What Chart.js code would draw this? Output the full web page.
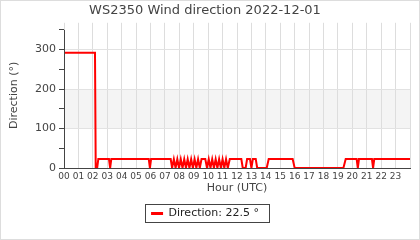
<!DOCTYPE html>
<html>
<head>
    <title>WS2350 Wind direction</title>
    <script src="https://cdn.jsdelivr.net/npm/chart.js"></script>
    <style>
        body { margin: 0; background: #fff; }
    </style>
</head>
<body>
    <canvas id="windChart" width="420" height="240"></canvas>
    <script>
        // sample time (hour of day, UTC) and wind direction (degrees)
        var hours = [
            0, 2.15,
            2.2, 2.3, 2.38,
            3.12, 3.2, 3.28,
            5.88, 5.96, 6.04,
            7.4, 7.5, 7.62, 7.74, 7.86, 7.98, 8.1, 8.22, 8.34, 8.46, 8.58, 8.7, 8.82, 8.94, 9.06, 9.18, 9.3, 9.42, 9.54,
            9.8, 9.92, 10.04, 10.16, 10.28, 10.4, 10.52, 10.64, 10.76, 10.88, 11.0, 11.12, 11.24,
            11.36, 11.5, 12.3, 12.4, 12.6, 12.7, 12.9, 13.0, 13.1, 13.3, 13.4,
            14.06, 14.2, 15.86, 16.0,
            19.38, 19.54, 20.3, 20.38, 20.46, 21.36, 21.44, 21.52, 24
        ];
        var directions = [
            292, 292,
            0, 0, 22.5,
            22.5, 0, 22.5,
            22.5, 0, 22.5,
            22.5, 0, 22.5, 0, 22.5, 0, 22.5, 0, 22.5, 0, 22.5, 0, 22.5, 0, 22.5, 0, 22.5, 0, 22.5,
            22.5, 0, 22.5, 0, 22.5, 0, 22.5, 0, 22.5, 0, 22.5, 0, 22.5,
            0, 22.5, 22.5, 0, 0, 22.5, 22.5, 0, 22.5, 22.5, 0,
            0, 22.5, 22.5, 0,
            0, 22.5, 22.5, 0, 22.5, 22.5, 0, 22.5, 22.5
        ];
        var yTicks = [0, 50, 100, 150, 200, 250, 300, 350];
        var bandFrom = 100, bandTo = 200;

        var points = hours.map(function (h, i) { return { x: h, y: directions[i] }; });
        var lastDir = directions[directions.length - 1];

        var decor = {
            id: 'decor',
            beforeDraw: function (chart) {
                var c = chart.ctx, a = chart.chartArea, y = chart.scales.y;
                c.save();
                c.fillStyle = '#fff';
                c.fillRect(0, 0, chart.width, chart.height);
                c.fillStyle = '#f4f4f4';
                var top = y.getPixelForValue(bandTo), bot = y.getPixelForValue(bandFrom);
                c.fillRect(a.left, top, a.right - a.left, bot - top);
                c.restore();
            },
            afterDraw: function (chart) {
                var c = chart.ctx, y = chart.scales.y;
                c.save();
                // y axis line
                c.strokeStyle = '#444';
                c.lineWidth = 1;
                c.beginPath();
                var x0 = Math.round(chart.chartArea.left) + 0.5;
                c.moveTo(x0, y.getPixelForValue(350));
                c.lineTo(x0, y.getPixelForValue(0));
                c.stroke();
                // box round the legend
                var hb = chart.legend.legendHitBoxes[0];
                if (hb) {
                    var l = Math.round(hb.left) - 5.5, t = Math.round(hb.top) - 3.5;
                    c.strokeStyle = '#444';
                    c.strokeRect(l, t, Math.round(hb.width) + 16, Math.round(hb.height) + 7);
                }
                // outer frame
                c.strokeStyle = '#ddd';
                c.strokeRect(0.5, 0.5, chart.width - 1, chart.height - 1);
                c.restore();
            }
        };

        var font = 'DejaVu Sans';
        var ctx = document.getElementById('windChart').getContext('2d');
        var windChart = new Chart(ctx, {
            type: 'line',
            data: {
                datasets: [{
                    label: 'Direction: ' + lastDir + ' °',
                    data: points,
                    borderColor: '#ff0000',
                    backgroundColor: '#ff0000',
                    borderWidth: 2,
                    pointRadius: 0,
                    tension: 0,
                    fill: false
                }]
            },
            options: {
                responsive: false,
                animation: false,
                devicePixelRatio: 1,
                layout: { padding: { left: 0, right: 10, top: 0, bottom: 11 } },
                plugins: {
                    title: {
                        display: true,
                        text: 'WS2350 Wind direction 2022-12-01',
                        color: '#444',
                        font: { family: font, size: 13, weight: 'normal' },
                        padding: { top: 3, bottom: 4.2 }
                    },
                    legend: {
                        position: 'bottom',
                        labels: {
                            color: '#222',
                            font: { family: font, size: 11 },
                            usePointStyle: true,
                            pointStyle: 'line',
                            pointStyleWidth: 12,
                            boxHeight: 11,
                            padding: 10,
                            generateLabels: function (chart) {
                                return Chart.defaults.plugins.legend.labels.generateLabels(chart).map(function (l) {
                                    l.lineWidth = 3;
                                    return l;
                                });
                            }
                        }
                    },
                    tooltip: { enabled: false }
                },
                scales: {
                    x: {
                        type: 'linear',
                        min: 0,
                        max: 24,
                        afterFit: function (scale) { scale.height = 30; },
                        ticks: {
                            stepSize: 1,
                            autoSkip: false,
                            maxRotation: 0,
                            padding: 3,
                            color: '#444',
                            font: { family: font, size: 9 },
                            callback: function (v) { return v < 24 ? String(v).padStart(2, '0') : ''; }
                        },
                        grid: { color: '#ddd', drawTicks: false },
                        border: { color: '#444' },
                        title: {
                            display: true,
                            text: 'Hour (UTC)',
                            color: '#444',
                            font: { family: font, size: 11 },
                            padding: { top: 0, bottom: 3 }
                        }
                    },
                    y: {
                        min: 0,
                        max: 368,
                        afterFit: function (scale) { scale.width = 64; },
                        afterBuildTicks: function (scale) {
                            scale.ticks = yTicks.map(function (v) { return { value: v }; });
                        },
                        ticks: {
                            color: '#444',
                            padding: 3,
                            font: { family: font, size: 11 },
                            callback: function (v) { return v % 100 === 0 ? v : ''; }
                        },
                        grid: {
                            color: function (c) {
                                return (c.tick && c.tick.value > 0 && c.tick.value < 350 && c.tick.value % 100 === 0) ? '#e2e2e2' : 'rgba(0,0,0,0)';
                            },
                            tickColor: '#444',
                            tickLength: 5
                        },
                        border: { display: false },
                        title: {
                            display: true,
                            text: 'Direction (°)',
                            color: '#444',
                            font: { family: font, size: 11 },
                            padding: { top: 7.5, bottom: 0 }
                        }
                    }
                }
            },
            plugins: [decor]
        });
    </script>
</body>
</html>
